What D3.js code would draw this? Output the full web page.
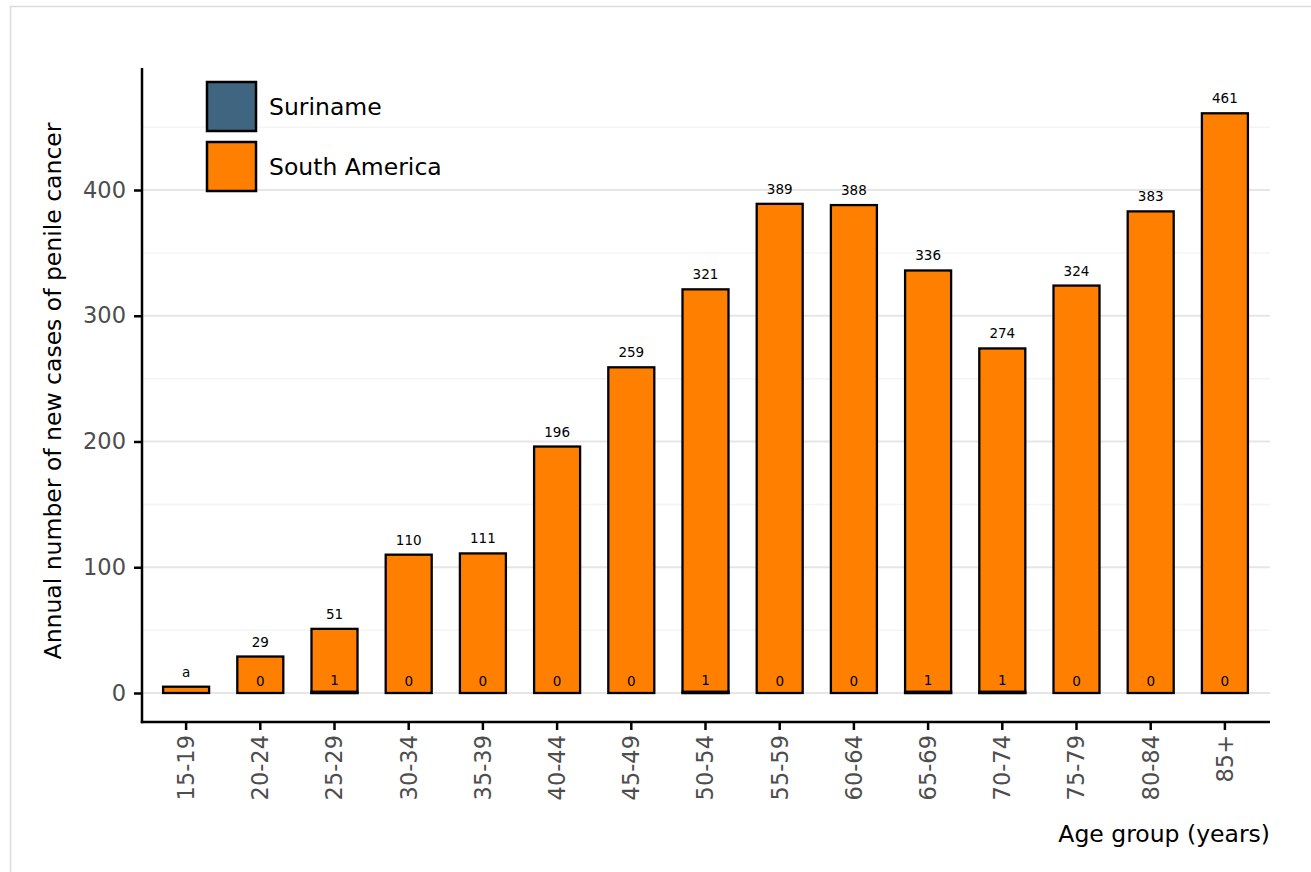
<!DOCTYPE html>
<html lang="en">
<head>
	<meta charset="UTF-8">
	<title>penile cancer by age</title>
	<script src="https://cdn.jsdelivr.net/npm/d3@7"></script>
	<style>
		body { margin: 0; background: #fff; }
		text { font-family: 'DejaVu Sans', sans-serif; }
	</style>
</head>
<body>
	<script>
	let ageGroups = ['15-19', '20-24', '25-29', '30-34', '35-39', '40-44', '45-49', '50-54',
		'55-59', '60-64', '65-69', '70-74', '75-79', '80-84', '85+']
	let southAmerica = [5, 29, 51, 110, 111, 196, 259, 321, 389, 388, 336, 274, 324, 383, 461]
	let suriname = [0, 0, 1, 0, 0, 0, 0, 1, 0, 0, 1, 1, 0, 0, 0]
	let topLabels = ['a', '29', '51', '110', '111', '196', '259', '321', '389', '388', '336', '274', '324', '383', '461']
	let surinameLabels = ['', '0', '1', '0', '0', '0', '0', '1', '0', '0', '1', '1', '0', '0', '0']
	let yTicks = [0, 100, 200, 300, 400]
	let yMinor = [50, 150, 250, 350, 450]
	let series = ['Suriname', 'South America']
	let colors = ['#3f6580', '#ff8000']

	let width = 1311, height = 872
	let padL = 142, padR = 1270, padT = 68, padB = 722

	let svg = d3.select('body').append('svg')
		.attr('width', width)
		.attr('height', height)

	// outer frame (cropped figure)
	svg.append('path')
		.attr('d', `M10.5,${height} V6.5 H${width}`)
		.attr('fill', 'none')
		.attr('stroke', '#dcdcdc')
		.attr('stroke-width', 1.5)

	let x = d3.scaleBand()
		.domain(ageGroups)
		.range([149, 1262])
		.paddingInner(0.38)
		.paddingOuter(0.19)

	let y = d3.scaleLinear()
		.domain([0, 100])
		.range([693, 567.25])

	// grid
	svg.selectAll('.minor')
		.data(yMinor)
		.enter()
		.append('line')
		.attr('x1', padL).attr('x2', padR)
		.attr('y1', d => y(d)).attr('y2', d => y(d))
		.attr('stroke', '#f4f4f4')
		.attr('stroke-width', 1.5)

	svg.selectAll('.major')
		.data(yTicks)
		.enter()
		.append('line')
		.attr('x1', padL).attr('x2', padR)
		.attr('y1', d => y(d)).attr('y2', d => y(d))
		.attr('stroke', '#e6e6e6')
		.attr('stroke-width', 2)

	// south america bars
	svg.selectAll('.sa')
		.data(southAmerica)
		.enter()
		.append('rect')
		.attr('x', (d, i) => x(ageGroups[i]))
		.attr('y', d => y(d))
		.attr('width', x.bandwidth())
		.attr('height', d => y(0) - y(d))
		.attr('fill', colors[1])
		.attr('stroke', '#000')
		.attr('stroke-width', 2.3)

	// suriname bars (tiny)
	svg.selectAll('.sr')
		.data(suriname)
		.enter()
		.append('rect')
		.attr('x', (d, i) => x(ageGroups[i]))
		.attr('y', d => y(d))
		.attr('width', x.bandwidth())
		.attr('height', d => y(0) - y(d))
		.attr('fill', colors[0])
		.attr('stroke', '#000')
		.attr('stroke-width', d => d > 0 ? 2.3 : 0)

	svg.selectAll('.toplab')
		.data(topLabels)
		.enter()
		.append('text')
		.attr('x', (d, i) => x(ageGroups[i]) + x.bandwidth() / 2)
		.attr('y', (d, i) => y(southAmerica[i]) - 10)
		.attr('text-anchor', 'middle')
		.attr('font-size', 13.5)
		.attr('fill', '#000')
		.text(d => d)

	svg.selectAll('.srlab')
		.data(surinameLabels)
		.enter()
		.append('text')
		.attr('x', (d, i) => x(ageGroups[i]) + x.bandwidth() / 2)
		.attr('y', (d, i) => y(suriname[i]) - 7)
		.attr('text-anchor', 'middle')
		.attr('font-size', 13.5)
		.attr('fill', '#000')
		.text(d => d)

	// axes
	let yAxis = svg.append('g')
		.attr('transform', `translate(${padL},0)`)
		.call(d3.axisLeft(y).tickValues(yTicks).tickSize(8).tickPadding(8))
	yAxis.select('.domain').remove()
	yAxis.selectAll('line').attr('stroke', '#000').attr('stroke-width', 2.5)
	yAxis.selectAll('text')
		.attr('font-size', 22.5)
		.attr('fill', '#4d4d4d')
		.attr('font-family', 'DejaVu Sans')

	let xAxis = svg.append('g')
		.attr('transform', `translate(0,${padB})`)
		.call(d3.axisBottom(x).tickSize(8).tickPadding(8))
	xAxis.select('.domain').remove()
	xAxis.selectAll('line').attr('stroke', '#000').attr('stroke-width', 2.5)
	xAxis.selectAll('text')
		.attr('font-size', 22.5)
		.attr('fill', '#4d4d4d')
		.attr('font-family', 'DejaVu Sans')
		.attr('transform', 'rotate(-90)')
		.attr('text-anchor', 'end')
		.attr('x', -13)
		.attr('y', 0)
		.attr('dy', '0.35em')

	svg.append('line')
		.attr('x1', padL).attr('x2', padL)
		.attr('y1', padT).attr('y2', padB + 1.25)
		.attr('stroke', '#000').attr('stroke-width', 2.5)
	svg.append('line')
		.attr('x1', padL - 1.25).attr('x2', padR)
		.attr('y1', padB).attr('y2', padB)
		.attr('stroke', '#000').attr('stroke-width', 2.5)

	// titles
	svg.append('text')
		.attr('transform', `translate(61,391) rotate(-90)`)
		.attr('text-anchor', 'middle')
		.attr('font-size', 23.5)
		.attr('fill', '#000')
		.text('Annual number of new cases of penile cancer')

	svg.append('text')
		.attr('x', padR)
		.attr('y', 842)
		.attr('text-anchor', 'end')
		.attr('font-size', 23.5)
		.attr('fill', '#000')
		.text('Age group (years)')

	// legend
	let legend = svg.selectAll('.legend')
		.data(series)
		.enter()
		.append('g')
		.attr('transform', (d, i) => `translate(207,${82 + i * 60})`)
	legend.append('rect')
		.attr('width', 49)
		.attr('height', 49)
		.attr('fill', (d, i) => colors[i])
		.attr('stroke', '#000')
		.attr('stroke-width', 2.5)
	legend.append('text')
		.attr('x', 62)
		.attr('y', 24.5)
		.attr('dy', '0.35em')
		.attr('font-size', 23.5)
		.attr('fill', '#000')
		.text(d => d)
	</script>
</body>
</html>
